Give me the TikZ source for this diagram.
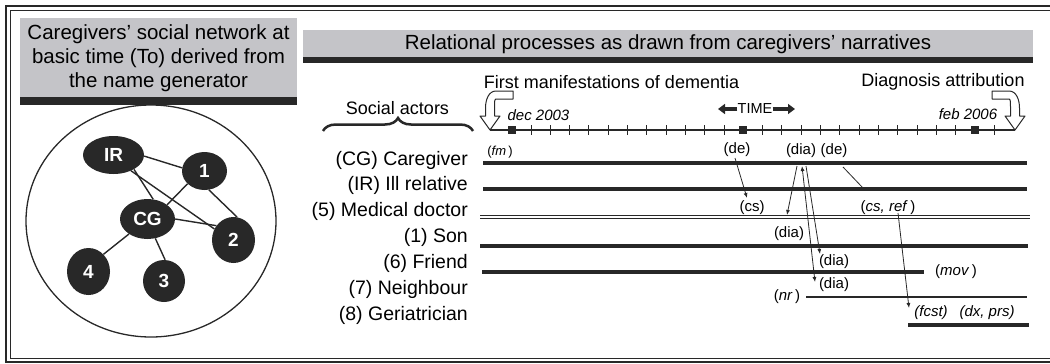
\documentclass[tikz,border=0pt]{standalone}
\usepackage{fontspec}
\setmainfont{Liberation Sans}
\usetikzlibrary{shapes.geometric, arrows.meta, decorations.pathreplacing}
\definecolor{panelgray}{RGB}{196,196,200}
\definecolor{ink}{RGB}{40,40,40}

\begin{document}
\begin{tikzpicture}[x=1pt, y=-1pt,
  lbl/.style={anchor=east, inner sep=0, font=\fontsize{19.5}{22}\selectfont},
  ev/.style={inner sep=0, font=\fontsize{15}{17}\selectfont},
  evsmall/.style={inner sep=0, font=\fontsize{13}{15}\selectfont},
  head/.style={inner sep=0, font=\fontsize{18}{21}\selectfont},
  ttl/.style={inner sep=0, align=center, font=\fontsize{20.5}{24}\selectfont},
  tie/.style={line width=4.5, ink},
  net/.style={ellipse, fill=ink, text=white, inner sep=0,
    font=\fontsize{19}{21}\selectfont\bfseries},
  link/.style={line width=1.4, ink},
  flow/.style={line width=0.8, ink, -{Latex[length=5,width=4]}},
  hollow/.style={line width=1, draw=ink, fill=white, line join=round},
  timearrow/.style={line width=4, ink, -{Triangle[length=7,width=10]}},
  tick/.style={line width=0.9, ink}
]
\useasboundingbox (0,0) rectangle (1050,364);

% double frame round the whole figure
\draw[line width=2, ink] (5.5,5.5) rectangle (1080,361.5);
\draw[line width=0.9, ink] (10,10) rectangle (1080,358);

% ---------- left panel: network at basic time ----------
\fill[panelgray] (20,18) rectangle (297,97);
\fill[ink] (20,97) rectangle (297,105);
\node[ttl] (ltitle) at (158.5,58)
  {Caregivers' social network at\\basic time (To) derived from\\the name generator};

\draw[line width=1.3, ink] (151,221) ellipse [x radius=125, y radius=116];

\node[net, minimum width=61, minimum height=38] (IR) at (113.5,155) {IR};
\node[net, minimum width=45, minimum height=38] (n1) at (204.5,171) {1};
\node[net, minimum width=55, minimum height=40] (CG) at (147.5,219) {CG};
\node[net, minimum width=43, minimum height=46] (n2) at (233.5,240) {2};
\node[net, minimum width=43, minimum height=47] (n4) at (88.5,271.5) {4};
\node[net, minimum width=42, minimum height=42] (n3) at (164,281) {3};

\draw[link] (IR.-2) -- (n1.172);
\draw[link] (IR.-35) -- (CG.74);
\draw[link] (IR.-42) -- (n2.150);
\draw[link] (n1.217) -- (CG.36);
\draw[link] (n1.283) -- (n2.81);
\draw[link] (CG.0) -- (n2.140);
\draw[link] (CG.219) -- (n4.49);
\draw[link] (CG.292) -- (n3.87);

% ---------- right panel: relational processes ----------
\fill[panelgray] (303,30) rectangle (1033,57);
\fill[ink] (303,57) rectangle (1033,63);
\node[ttl] (rtitle) at (668,44)
  {Relational processes as drawn from caregivers' narratives};

\node[head] (fmhead) at (611.5,82) {First manifestations of dementia};
\node[head] (dghead) at (943,82) {Diagnosis attribution};
\node[head] (actors) at (397.5,108) {Social actors};
\draw[line width=2.5, ink, decorate, decoration={brace, amplitude=13}]
  (323,131) -- (473,131);

% time axis
\coordinate (tstart) at (490,130);
\coordinate (tend) at (1015,130);
\draw[line width=1.1, ink] (tstart) -- (tend);
\draw[line width=2.2, ink] (878.4,130) -- (897.7,130);
\foreach \k in {1,...,11} \draw[tick] (511.7+19.3*\k,125) -- ++(0,10);
\foreach \k in {13,...,23} \draw[tick] (511.7+19.3*\k,125) -- ++(0,10);
\draw[tick] (511.7+19.3*25,125) -- ++(0,10);
\foreach \k in {0,12,24} \fill[ink] (511.7+19.3*\k-4,126) rectangle ++(8,8);

\node[ev, font=\fontsize{15}{17}\selectfont\itshape] (dec) at (538.5,115) {dec 2003};
\node[ev, font=\fontsize{15}{17}\selectfont\itshape] (feb) at (968,114) {feb 2006};

\node[inner sep=0, font=\fontsize{14.5}{16}\selectfont] (time) at (755,109) {TIME};
\coordinate (timeL) at (718,109);
\coordinate (timeR) at (795,109);
\draw[timearrow] (time.west) -- (timeL);
\draw[timearrow] (time.east) -- (timeR);

% hollow bent arrows onto the axis
\draw[hollow] (513,91) -- (496,91) .. controls (488.5,91) and (485.5,100) .. (485.5,108)
  -- (485.5,116) -- (480,116) -- (490,130) -- (500,116) -- (494.5,116) -- (494.5,108)
  .. controls (494.5,102) and (494.5,99) .. (496,99) -- (513,99) -- cycle;
\draw[hollow] (992,91) -- (1009,91) .. controls (1016.5,91) and (1019.5,100) .. (1019.5,108)
  -- (1019.5,116) -- (1025,116) -- (1015,130) -- (1005,116) -- (1010.5,116) -- (1010.5,108)
  .. controls (1010.5,102) and (1010.5,99) .. (1009,99) -- (992,99) -- cycle;

% actors and their ties
\node[lbl] (aCG) at (468,160) {(CG) Caregiver};
\node[lbl] (aIR) at (468,185) {(IR) Ill relative};
\node[lbl] (aMD) at (468,211) {(5) Medical doctor};
\node[lbl] (aSon) at (468,237) {(1) Son};
\node[lbl] (aFr) at (468,263) {(6) Friend};
\node[lbl] (aNb) at (468,289) {(7) Neighbour};
\node[lbl] (aGe) at (468,315) {(8) Geriatrician};

\draw[tie] (483,163) -- (1027,163);
\draw[tie] (483,189) -- (1027,189);
\draw[line width=1, draw=ink, double=white, double distance=2] (480,217) -- (1030,217);
\draw[tie] (480,246) -- (1028,246);
\draw[tie] (482,272) -- (924,272);
\draw[line width=2.2, ink] (806,297) -- (1027,297);
\draw[tie] (908,325) -- (1029,325);

% events
\node[evsmall] (fm) at (500,152) {(\textit{fm}\,)};
\node[ev] (de1) at (737,150) {(de)};
\node[ev] (dia0) at (801,151) {(dia)};
\node[ev] (de2) at (834,151) {(de)};
\node[ev] (cs) at (752,208) {(cs)};
\node[ev] (csref) at (888,208) {(\textit{cs, ref}\,)};
\node[ev] (dia1) at (789,234) {(dia)};
\node[ev] (dia2) at (834,262) {(dia)};
\node[ev] (dia3) at (834,285) {(dia)};
\node[ev] (mov) at (956,272) {(\textit{mov}\,)};
\node[ev] (nr) at (787,297) {(\textit{nr}\,)};
\node[ev, font=\fontsize{15}{17}\selectfont\itshape] (fcst) at (931,313) {(fcst)};
\node[ev, font=\fontsize{15}{17}\selectfont\itshape] (dxprs) at (987,313) {(dx, prs)};

% flows between actors
\coordinate (p1a) at (735,158);  \coordinate (p1b) at (747,198);
\coordinate (p2a) at (797,166);  \coordinate (p2b) at (787,215);
\coordinate (p3a) at (802,166);  \coordinate (p3b) at (815,282);
\coordinate (p4a) at (806,166);  \coordinate (p4b) at (820,254);
\coordinate (p5a) at (843,167);  \coordinate (p5b) at (863,188);
\coordinate (p6a) at (898,213);  \coordinate (p6b) at (909,308);
\draw[flow] (p1a) -- (p1b);
\draw[flow] (p2a) -- (p2b);
\draw[flow, {Latex[length=5,width=4]}-{Latex[length=5,width=4]}] (p3a) -- (p3b);
\draw[flow] (p4a) -- (p4b);
\draw[line width=0.8, ink] (p5a) -- (p5b);
\draw[flow] (p6a) -- (p6b);

\end{tikzpicture}
\end{document}
